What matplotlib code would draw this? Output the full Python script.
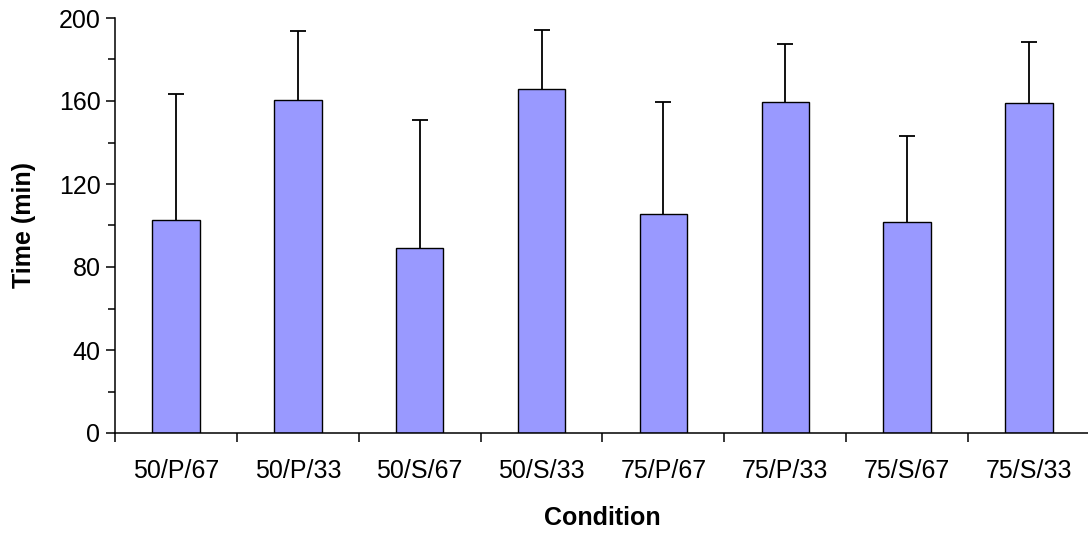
import matplotlib
matplotlib.use("Agg")
import matplotlib.pyplot as plt
import numpy as np
from matplotlib.ticker import MultipleLocator, FixedLocator, NullFormatter

conditions = ["50/P/67", "50/P/33", "50/S/67", "50/S/33",
              "75/P/67", "75/P/33", "75/S/67", "75/S/33"]
mean_time = [102.5, 160.5, 89, 166, 105.5, 159.5, 101.5, 159]
sd_time = [61, 33, 62, 28, 54, 28, 41.5, 29.5]

plt.rcParams["font.family"] = ["Liberation Sans", "DejaVu Sans"]

fig = plt.figure(figsize=(10.88, 5.33), dpi=100)
ax = fig.add_axes([115 / 1088, 1 - 433 / 533, 975 / 1088, 415 / 533])

x = np.arange(len(conditions))
ax.bar(x, mean_time, width=0.39, color="#9999FF", edgecolor="black", linewidth=1.0, zorder=2)
# only the upper half of the error bar is shown
_, caps, _ = ax.errorbar(x, mean_time, yerr=[np.zeros(len(sd_time)), sd_time], fmt="none",
                         ecolor="black", elinewidth=1.3, capsize=6, capthick=1.3, zorder=3)
caps[0].set_visible(False)

ax.set_xlim(-0.5, len(conditions) - 0.5)
ax.set_ylim(0, 200)
ax.yaxis.set_major_locator(MultipleLocator(40))
ax.yaxis.set_minor_locator(MultipleLocator(20))
ax.xaxis.set_major_locator(FixedLocator(np.arange(len(conditions) + 1) - 0.5))
ax.xaxis.set_major_formatter(NullFormatter())
ax.xaxis.set_minor_locator(FixedLocator(x))
ax.set_xticklabels(conditions, minor=True)
ax.tick_params(axis="x", which="minor", length=0, pad=19, labelsize=18)
ax.tick_params(axis="x", which="major", length=6.5, width=1.1, direction="out")
ax.tick_params(axis="y", which="major", length=6.5, width=1.1, labelsize=18, pad=4)
ax.tick_params(axis="y", which="minor", length=5, width=1.1)

for side in ["top", "right"]:
    ax.spines[side].set_visible(False)
for side in ["left", "bottom"]:
    ax.spines[side].set_linewidth(1.1)

ax.set_xlabel("Condition", fontsize=18, fontweight="bold", labelpad=16)
ax.set_ylabel("Time (min)", fontsize=18, fontweight="bold", labelpad=16)

fig.savefig("out.png", dpi=100)
